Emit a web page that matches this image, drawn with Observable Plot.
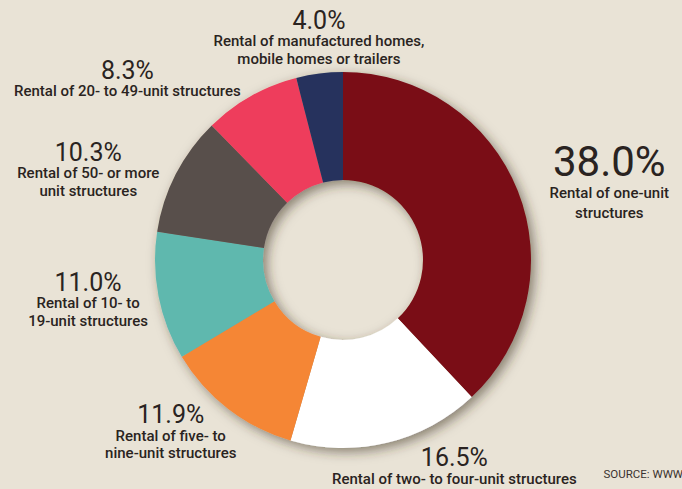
<!DOCTYPE html>
<html><head><meta charset="utf-8">
<script src="https://cdn.jsdelivr.net/npm/d3@7"></script>
<script src="https://cdn.jsdelivr.net/npm/@observablehq/plot@0.6"></script>
<style>
html,body{margin:0;padding:0;background:#E9E3D6;}
#chart{width:682px;height:489px;overflow:hidden;}
#chart svg{display:block;background:linear-gradient(to bottom,#E9E3D6 0,#E9E3D6 484px,#B8B29E 484px);}
</style></head><body><div id="chart"></div>
<script>
// ---- data ----
const categories = [
  "Rental of one-unit structures",
  "Rental of two- to four-unit structures",
  "Rental of five- to nine-unit structures",
  "Rental of 10- to 19-unit structures",
  "Rental of 50- or more unit structures",
  "Rental of 20- to 49-unit structures",
  "Rental of manufactured homes, mobile homes or trailers"
];
const shares = [38.0, 16.5, 11.9, 11.0, 10.3, 8.3, 4.0];
const labelLines = [
  ["Rental of one-unit", "structures"],
  ["Rental of two- to four-unit structures"],
  ["Rental of five- to", "nine-unit structures"],
  ["Rental of 10- to", "19-unit structures"],
  ["Rental of 50- or more", "unit structures"],
  ["Rental of 20- to 49-unit structures"],
  ["Rental of manufactured homes,", "mobile homes or trailers"]
];
const sliceColors = ["#7A1015", "#FFFFFF", "#F58634", "#5FB8AE", "#594F4B", "#EE3D5B", "#27335D"];
const sourceText = "SOURCE: WWW.CENSUS.GOV";

// ---- layout (pixels) ----
const W = 682, H = 489, CX = 343, CY = 260, R = 188, innerRatio = 80 / 188;
// label nudges from the slice's outer mid-point to the percent baseline
const labelNudge = [[91, -15], [67, 23], [-58, 14], [-71, -6], [-88, -14], [-124, -18], [-1, -45]];
const pctSize = [42, 25, 25, 25, 25, 25, 25];
const lineSize = 15, lineGap = 17.5;

const rows = categories.map((c, i) => ({category: c, share: shares[i], lines: labelLines[i]}));
const arcs = d3.pie().sort(null).value(d => d.share)(rows);

const pctRows = [], lineRows = [];
arcs.forEach((a, i) => {
  const m = (a.startAngle + a.endAngle) / 2;
  const bx = CX + R * Math.sin(m) + labelNudge[i][0];
  const by = CY - R * Math.cos(m) + labelNudge[i][1];
  const toX = px => (px - CX) / R, toY = py => (CY - py) / R;
  pctRows.push({x: toX(bx), y: toY(by - 0.32 * pctSize[i]), text: rows[i].share.toFixed(1) + "%", size: pctSize[i]});
  rows[i].lines.forEach((t, k) => {
    const lb = by + (i === 0 ? 22 : lineGap) + k * (i === 0 ? 19.5 : lineGap);
    lineRows.push({x: toX(bx), y: toY(lb - 0.32 * lineSize), text: t});
  });
});

const plot = Plot.plot({
  width: W, height: H,
  margin: 0,
  x: {domain: [-1, 1], range: [CX - R, CX + R], axis: null},
  y: {domain: [-1, 1], range: [CY + R, CY - R], axis: null},
  color: {domain: categories, range: sliceColors},
  style: {fontFamily: "Roboto, sans-serif", color: "#2A2321", background: "transparent", overflow: "visible"},
  marks: [
    Plot.dot(rows, {
      x: () => 0, y: () => 0, fill: "category",
      render(index, scales, values) {
        const cx = scales.x(0), cy = scales.y(0);
        const outer = Math.abs(scales.x(1) - cx);
        const arc = d3.arc().innerRadius(outer * innerRatio).outerRadius(outer);
        const g = d3.create("svg:g").attr("transform", `translate(${cx},${cy})`).attr("filter", "url(#ringShadow)");
        for (const i of index) g.append("path").attr("d", arc(arcs[i])).attr("fill", values.fill[i]);
        return g.node();
      }
    }),
    Plot.text(pctRows, {x: "x", y: "y", text: "text", fontSize: "size", fill: "#2A2321", fontWeight: 400}),
    Plot.text(lineRows, {x: "x", y: "y", text: "text", fontSize: lineSize, fill: "#2A2321", fontWeight: 500}),
    Plot.text([sourceText], {frameAnchor: "bottom-left", dx: 603, dy: -12, textAnchor: "start", fontSize: 11.5, fill: "#3A3330", letterSpacing: "-0.3px"})
  ]
});

const defs = d3.select(plot).insert("defs", ":first-child");
const f = defs.append("filter").attr("id", "ringShadow")
  .attr("x", "-30%").attr("y", "-30%").attr("width", "160%").attr("height", "160%");
f.append("feDropShadow").attr("dx", 4).attr("dy", 4).attr("stdDeviation", 6)
  .attr("flood-color", "#3B3222").attr("flood-opacity", 0.55);

document.getElementById("chart").appendChild(plot);
</script></body></html>
